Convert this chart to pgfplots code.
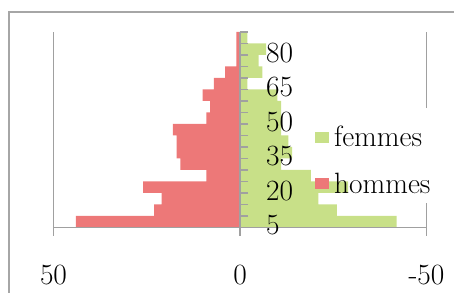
\documentclass[border=0pt]{standalone}
\usepackage{pgfplots}
\pgfplotsset{compat=1.18}
\definecolor{gridgray}{RGB}{160,160,160}
\definecolor{borderg}{RGB}{166,166,166}
\definecolor{redc}{RGB}{237,120,120}
\definecolor{greenc}{RGB}{200,224,136}
\newcommand{\bigf}{\fontsize{29.5}{35}\selectfont}
\begin{document}
\begin{tikzpicture}
\useasboundingbox (0,0) rectangle (454bp,293bp);
\draw[borderg, line width=2bp] (9bp,0bp) -- (9bp,280.5bp) -- (454bp,280.5bp);
\begin{axis}[
  axis on top,
  at={(53.5bp,65.5bp)}, anchor=south west,
  scale only axis, width=373bp, height=195.5bp,
  xmin=-50, xmax=50, x dir=reverse,
  ymin=0.5, ymax=17.5,
  axis x line*=bottom, axis y line*=middle,
  axis line style={gridgray, line width=1.8bp},
  clip=false,
  tick align=center,
  major tick length=8bp,
  xtick={-50,0,50}, xticklabels={-50,0,50},
  x tick style={gridgray, line width=1.8bp, yshift=-4bp},
  xticklabel style={font=\bigf, inner sep=0pt, anchor=base, yshift=-52.5bp},
  ytick={0.5,1.5,...,17.5}, yticklabels={},
  y tick style={gridgray, line width=1.8bp, xshift=4bp},
  extra y ticks={1,4,7,10,13,16},
  extra y tick labels={5,20,35,50,65,80},
  extra y tick style={major tick length=0pt, yticklabel style={font=\bigf, inner sep=0pt, anchor=west, xshift=26bp, yshift=-3.5bp}},
  legend style={at={(0.701,0.519)}, anchor=north west, draw=none, fill=none, inner sep=0pt,
    font=\bigf, row sep=24.5bp, nodes={inner sep=0pt},
    /tikz/every odd column/.append style={column sep=5bp}},
  legend cell align=left,
]
\draw[gridgray, line width=1.8bp] (axis cs:50,0.5) -- (axis cs:50,17.5);
\draw[gridgray, line width=1.8bp] (axis cs:-50,0.5) -- (axis cs:-50,2.59);
\draw[gridgray, line width=1.8bp] (axis cs:-50,10.87) -- (axis cs:-50,17.5);
\addplot[xbar, bar width=1, bar shift=0pt, draw=none, fill=greenc,
  legend image code/.code={\fill[greenc] (0bp,-5.5bp) rectangle (14bp,5.5bp);}]
  coordinates {(-42,1) (-26,2) (-21,3) (-29,4) (-19,5) (-11,6) (-14,7) (-13,8) (-11,9)
               (-11,10) (-11,11) (-10,12) (-2,13) (-6,14) (-5,15) (-7,16) (-2,17)};
\addlegendentry{femmes}
\addplot[xbar, bar width=1, bar shift=0pt, draw=none, fill=redc,
  legend image code/.code={\fill[redc] (0bp,-5.5bp) rectangle (14bp,5.5bp);}]
  coordinates {(44,1) (23,2) (21,3) (26,4) (9,5) (16,6) (17,7) (17,8) (18,9)
               (9,10) (8,11) (10,12) (7,13) (4,14) (1,15) (1,16) (1,17)};
\addlegendentry{hommes}
\end{axis}
\end{tikzpicture}
\end{document}
